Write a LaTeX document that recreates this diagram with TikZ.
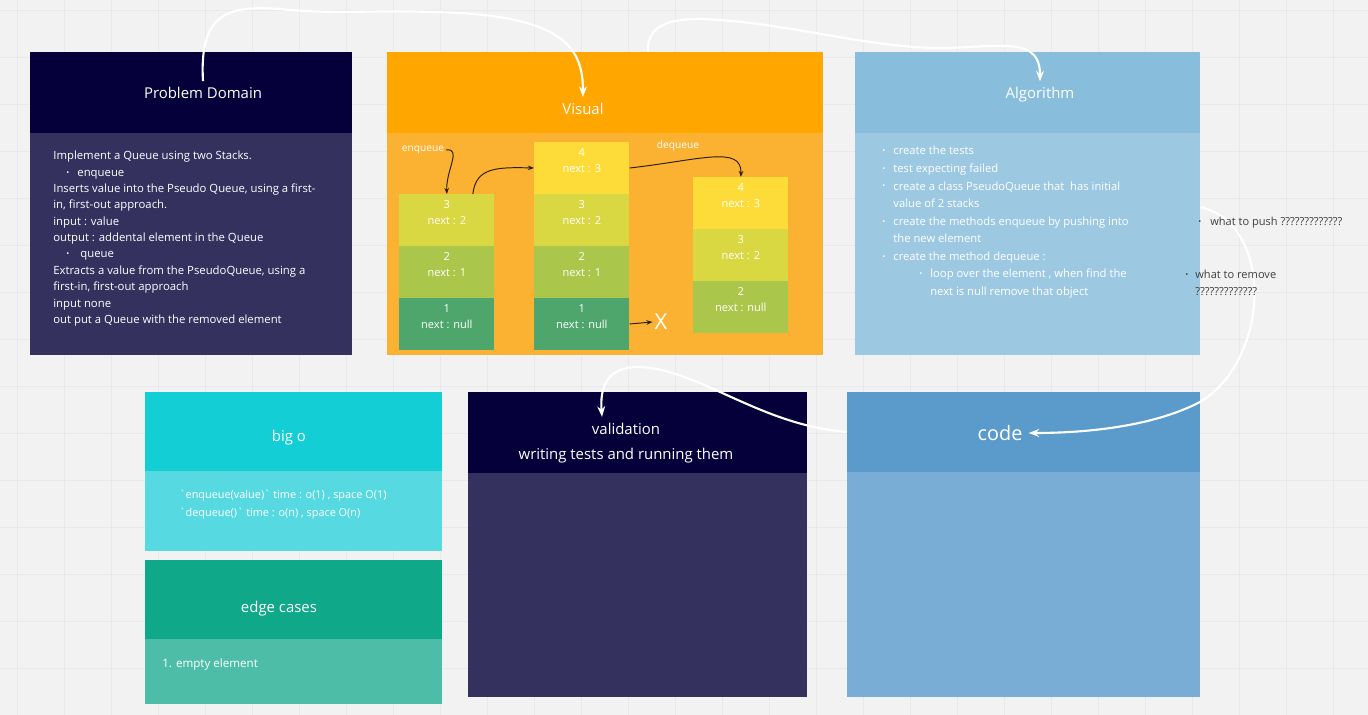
\documentclass[tikz,border=0pt]{standalone}
\usepackage{fontspec}
\setmainfont{Open Sans}
\usepackage{tikz}
\usetikzlibrary{positioning, fit, arrows.meta}
\definecolor{canvas}{HTML}{F2F2F2}
\definecolor{gridc}{HTML}{E9E9E9}
\definecolor{navyhead}{HTML}{05003A}
\definecolor{navybody}{HTML}{35315E}
\definecolor{orangehead}{HTML}{FFA600}
\definecolor{orangebody}{HTML}{FBB232}
\definecolor{skyhead}{HTML}{88BDDC}
\definecolor{skybody}{HTML}{9DC8E2}
\definecolor{cyanhead}{HTML}{14CED6}
\definecolor{cyanbody}{HTML}{56D9E0}
\definecolor{tealhead}{HTML}{0FA888}
\definecolor{tealbody}{HTML}{4DBDA7}
\definecolor{bluehead}{HTML}{5B9BCB}
\definecolor{bluebody}{HTML}{7AADD5}
\definecolor{yellowc}{HTML}{FDDC3A}
\definecolor{limec}{HTML}{D9D742}
\definecolor{olivec}{HTML}{AAC74B}
\definecolor{leafc}{HTML}{4EA66C}
\definecolor{arrowdark}{HTML}{2B1F10}
\newcommand{\bul}{\raisebox{0.6pt}{\fontsize{4.5}{4.5}\selectfont\textbullet}}
\newcommand{\itm}{\makebox[6.3pt][l]{\bul}}

\begin{document}
\begin{tikzpicture}[
    x=0.02cm, y=-0.02cm,
    card/.style={inner sep=0pt, draw=none},
    ttl/.style={text=white, font=\fontsize{8.5}{14.2}\selectfont, align=center},
    txt/.style={text=white, align=left, inner sep=0pt, anchor=north west,
        font=\fontsize{6.45}{9.3}\selectfont},
    cell/.style={minimum width=1.9cm, minimum height=1.026cm, inner sep=0pt},
    ctext/.style={text=white, align=center, inner sep=0pt, yshift=0.14cm,
        font=\fontsize{6.3}{9.1}\selectfont},
    lab/.style={text=white, inner sep=1pt, font=\fontsize{5.8}{7}\selectfont},
    note/.style={text=black!75, align=left, inner sep=0pt, anchor=north west,
        font=\fontsize{6.3}{9.7}\selectfont},
    flow/.style={draw=white, line width=1.2pt, -{Stealth[length=6pt, width=4.5pt]}},
    link/.style={draw=arrowdark, line width=0.55pt, -{Stealth[length=3.5pt, width=2.6pt]}},
    gridln/.style={draw=gridc, line width=0.3pt}
]
\path[use as bounding box, fill=canvas] (0,0) rectangle (1368,715);
\draw[gridln, shift={(17,10)}, step=0.94cm] (-17,-10) grid (1351,705);

% cards
\node[card, fill=navyhead, fit={(30,52) (352,133)}] (PDh) {};
\node[card, fill=navybody, fit={(30,133) (352,355)}] (PDb) {};
\node[card, fill=orangehead, fit={(387,52) (823,133)}] (Vh) {};
\node[card, fill=orangebody, fit={(387,133) (823,355)}] (Vb) {};
\node[card, fill=skyhead, fit={(855,52) (1200,133)}] (Ah) {};
\node[card, fill=skybody, fit={(855,133) (1200,355)}] (Ab) {};
\node[card, fill=cyanhead, fit={(145,392) (442,471)}] (BOh) {};
\node[card, fill=cyanbody, fit={(145,471) (442,551)}] (BOb) {};
\node[card, fill=tealhead, fit={(145,560) (442,639)}] (ECh) {};
\node[card, fill=tealbody, fit={(145,639) (442,704)}] (ECb) {};
\node[card, fill=navyhead, fit={(468,392) (807,473)}] (VLh) {};
\node[card, fill=navybody, fit={(468,473) (807,697)}] (VLb) {};
\node[card, fill=bluehead, fit={(847,392) (1200,472)}] (Ch) {};
\node[card, fill=bluebody, fit={(847,472) (1200,697)}] (Cb) {};

% titles
\node[ttl] (PDt) at (203,93) {Problem Domain};
\node[ttl] (Vt) at (583,109) {Visual};
\node[ttl] (At) at (1040,95) {Algorithm};
\node[ttl] (BOt) at (289,438) {big o};
\node[ttl] (ECt) at (279,609) {edge cases};
\node[ttl] (VLt) at (626,443) {validation\\writing tests and running them};
\node[ttl, font=\fontsize{11.3}{13}\selectfont] (Ct) at (1000,433) {code};

% texts
\node[txt] (PDx) at (53,151) {%
  Implement a Queue using two Stacks.\\
  \hspace*{7.4pt}\itm enqueue\\
  Inserts value into the Pseudo Queue, using a first-\\
  in, first-out approach.\\
  input : value\\
  output : addental element in the Queue\\
  \hspace*{7.4pt}\makebox[8pt][l]{\bul}queue\\
  Extracts a value from the PseudoQueue, using a\\
  first-in, first-out approach\\
  input none\\
  out put a Queue with the removed element};
\node[txt, font=\fontsize{6.4}{10}\selectfont] (Ax) at (882,146) {%
  \itm create the tests\\
  \itm test expecting failed\\
  \itm create a class PseudoQueue that\ \ has initial\\
  \hspace*{6.3pt}value of 2 stacks\\
  \itm create the methods enqueue by pushing into\\
  \hspace*{6.3pt}the new element\\
  \itm create the method dequeue :\\
  \hspace*{21pt}\itm loop over the element , when find the\\
  \hspace*{27.3pt}next is null remove that object};
\node[txt, font=\fontsize{6.2}{10.2}\selectfont] (BOx) at (179,490) {%
  \textasciigrave enqueue(value)\textasciigrave\ time : o(1) , space O(1)\\
  \textasciigrave dequeue()\textasciigrave\ time : o(n) , space O(n)};
\node[txt, font=\fontsize{6.6}{9.3}\selectfont] (ECx) at (162,658) {1. empty element};

% stacks
\node[cell, fill=limec, anchor=north west, label={[ctext]center:{3\\next : 2}}] (A3) at (399,194) {};
\node[cell, fill=olivec, below=0pt of A3, label={[ctext]center:{2\\next : 1}}] (A2) {};
\node[cell, fill=leafc, below=0pt of A2, label={[ctext]center:{1\\next : null}}] (A1) {};

\node[cell, fill=yellowc, anchor=north west, label={[ctext]center:{4\\next : 3}}] (B4) at (534,142) {};
\node[cell, fill=limec, below=0pt of B4, label={[ctext]center:{3\\next : 2}}] (B3) {};
\node[cell, fill=olivec, below=0pt of B3, label={[ctext]center:{2\\next : 1}}] (B2) {};
\node[cell, fill=leafc, below=0pt of B2, label={[ctext]center:{1\\next : null}}] (B1) {};

\node[cell, fill=yellowc, anchor=north west, label={[ctext]center:{4\\next : 3}}] (C4) at (693,177) {};
\node[cell, fill=limec, below=0pt of C4, label={[ctext]center:{3\\next : 2}}] (C3) {};
\node[cell, fill=olivec, below=0pt of C3, label={[ctext]center:{2\\next : null}}] (C2) {};

\node[lab] (EQ) at (423,150) {enqueue};
\node[lab] (DQ) at (678,146) {dequeue};
\node[text=white, inner sep=1pt, font=\fontsize{12.5}{14}\selectfont] (XX) at (661,322) {X};

\draw[link] (EQ.east) .. controls (462,148) and (446,170) .. (A3.north);
\draw[link] ([xshift=0.52cm]A3.north) .. controls (476,168) and (495,167) .. (B4.west);
\draw[link] (B4.east) .. controls (700,160) and (742,145) .. (C4.north);
\draw[link] (B1.east) -- (XX.west);

% flow between cards
\draw[flow] (PDt.north) .. controls (199,10) and (230,4) .. (290,10)
    .. controls (340,14) and (380,10) .. (430,12)
    .. controls (560,14) and (583,45) .. (Vt.north);
\draw[flow] ([xshift=0.86cm]Vh.north) .. controls (646,20) and (680,17) .. (720,20)
    .. controls (800,26) and (880,50) .. (950,48)
    .. controls (1010,45) and (1040,40) .. (At.north);
\draw[flow] ([yshift=0.74cm]Ab.east) .. controls (1275,225) and (1270,360) .. (1200,402)
    .. controls (1150,428) and (1080,433) .. (Ct.east);
\draw[flow] (Ch.west) .. controls (760,425) and (700,370) .. (640,367)
    .. controls (605,366) and (600,390) .. ([xshift=-0.48cm]VLt.north);

% side notes
\node[note] (N1) at (1198,217) {\makebox[6.8pt][l]{\bul}what to push ?????????????};
\node[note] (N2) at (1185,270) {\makebox[5.7pt][l]{\bul}what to remove\\\hspace*{5.7pt}?????????????};
\end{tikzpicture}
\end{document}
